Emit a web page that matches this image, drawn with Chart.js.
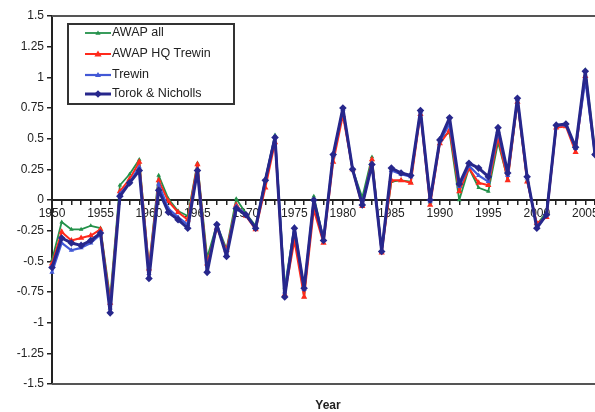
<!DOCTYPE html>
<html>
<head>
    <title>Temperature anomalies</title>
    <script src="https://cdn.jsdelivr.net/npm/chart.js"></script>
</head>
<body style="margin:0; background:white;">
    <div style="width:595px; height:412px; position:relative;">
        <canvas id="anomChart"></canvas>
    </div>

    <script>
        const years = [1950, 1951, 1952, 1953, 1954, 1955, 1956, 1957, 1958, 1959,
                       1960, 1961, 1962, 1963, 1964, 1965, 1966, 1967, 1968, 1969,
                       1970, 1971, 1972, 1973, 1974, 1975, 1976, 1977, 1978, 1979,
                       1980, 1981, 1982, 1983, 1984, 1985, 1986, 1987, 1988, 1989,
                       1990, 1991, 1992, 1993, 1994, 1995, 1996, 1997, 1998, 1999,
                       2000, 2001, 2002, 2003, 2004, 2005, 2006];

        const awapAll = [-0.49, -0.18, -0.24, -0.24, -0.21, -0.23, -0.80, 0.12, 0.21, 0.33,
                         -0.55, 0.20, 0.01, -0.09, -0.13, 0.30, -0.47, -0.20, -0.40, 0.01,
                         -0.11, -0.21, 0.17, 0.53, -0.71, -0.22, -0.79, 0.03, -0.32, 0.35,
                         0.71, 0.25, 0.02, 0.35, -0.41, 0.15, 0.16, 0.15, 0.73, -0.02,
                         0.50, 0.55, 0.00, 0.26, 0.10, 0.07, 0.47, 0.17, 0.80, 0.16,
                         -0.20, -0.10, 0.60, 0.62, 0.42, 1.06, 0.40];

        const awapHQ = [-0.52, -0.26, -0.33, -0.31, -0.29, -0.24, -0.84, 0.07, 0.17, 0.31,
                        -0.56, 0.16, -0.01, -0.10, -0.16, 0.29, -0.52, -0.23, -0.41, -0.04,
                        -0.13, -0.24, 0.10, 0.47, -0.77, -0.33, -0.79, -0.08, -0.35, 0.31,
                        0.69, 0.25, -0.05, 0.33, -0.43, 0.16, 0.16, 0.14, 0.70, -0.04,
                        0.46, 0.57, 0.07, 0.26, 0.14, 0.12, 0.51, 0.16, 0.80, 0.15,
                        -0.19, -0.14, 0.59, 0.60, 0.39, 1.01, 0.38];

        const trewin = [-0.59, -0.35, -0.41, -0.39, -0.35, -0.28, -0.88, 0.05, 0.14, 0.27,
                        -0.60, 0.13, -0.07, -0.14, -0.20, 0.25, -0.57, -0.20, -0.44, -0.05,
                        -0.12, -0.23, 0.16, 0.52, -0.75, -0.22, -0.73, 0.00, -0.32, 0.36,
                        0.74, 0.25, -0.03, 0.30, -0.42, 0.24, 0.21, 0.19, 0.72, -0.01,
                        0.48, 0.62, 0.11, 0.28, 0.20, 0.15, 0.56, 0.20, 0.82, 0.18,
                        -0.22, -0.12, 0.61, 0.61, 0.42, 0.98, 0.37];

        const torokNicholls = [-0.55, -0.31, -0.35, -0.37, -0.33, -0.27, -0.92, 0.03, 0.14, 0.24,
                               -0.64, 0.08, -0.10, -0.16, -0.23, 0.24, -0.59, -0.20, -0.46, -0.07,
                               -0.12, -0.23, 0.16, 0.51, -0.79, -0.23, -0.72, 0.00, -0.33, 0.37,
                               0.75, 0.25, -0.04, 0.29, -0.42, 0.26, 0.22, 0.20, 0.73, 0.00,
                               0.49, 0.67, 0.13, 0.30, 0.26, 0.19, 0.59, 0.22, 0.83, 0.19,
                               -0.23, -0.12, 0.61, 0.62, 0.43, 1.05, 0.37];

        const seriesNames = ["AWAP all", "AWAP HQ Trewin", "Trewin", "Torok & Nicholls"];

        const FONT = "'Liberation Sans', Arial, sans-serif";

        function pts(values) {
            return values.map((v, i) => ({ x: years[i], y: v }));
        }

        // later series sit on top, as in the original, so they go first here
        const series = [
            { label: seriesNames[3], data: torokNicholls, color: "#27278c", style: "rectRot", r: 3.8, w: 3 },
            { label: seriesNames[2], data: trewin, color: "#4258d6", style: "triangle", r: 3, w: 2.2 },
            { label: seriesNames[1], data: awapHQ, color: "#ff2a1c", style: "triangle", r: 3.6, w: 2 },
            { label: seriesNames[0], data: awapAll, color: "#23914a", style: "triangle", r: 2.6, w: 1.8 }
        ];

        function marker(ctx, style, x, y, r, color) {
            ctx.fillStyle = color;
            ctx.beginPath();
            if (style === "rectRot") {
                ctx.moveTo(x, y - r); ctx.lineTo(x + r, y); ctx.lineTo(x, y + r); ctx.lineTo(x - r, y);
            } else {
                ctx.moveTo(x, y - r); ctx.lineTo(x + r, y + r * 0.7); ctx.lineTo(x - r, y + r * 0.7);
            }
            ctx.closePath();
            ctx.fill();
        }

        const framePlugin = {
            id: "frame",
            afterDraw(chart) {
                const { ctx, chartArea: a } = chart;
                ctx.save();
                // top and bottom border of the plot area
                ctx.strokeStyle = "#555";
                ctx.lineWidth = 2;
                ctx.beginPath();
                ctx.moveTo(a.left, a.top); ctx.lineTo(595, a.top);
                ctx.moveTo(a.left, a.bottom); ctx.lineTo(595, a.bottom);
                ctx.stroke();

                // legend box
                ctx.fillStyle = "white";
                ctx.fillRect(68, 24, 166, 80);
                ctx.strokeStyle = "#333";
                ctx.lineWidth = 2;
                ctx.strokeRect(68, 24, 166, 80);
                ctx.font = "12.5px " + FONT;
                ctx.textBaseline = "middle";
                const rows = [33, 54, 75, 94];
                for (let i = 0; i < 4; i++) {
                    const s = series[3 - i];
                    const y = rows[i];
                    ctx.strokeStyle = s.color;
                    ctx.lineWidth = s.w;
                    ctx.beginPath(); ctx.moveTo(85, y); ctx.lineTo(111, y); ctx.stroke();
                    marker(ctx, s.style, 98, y, s.r, s.color);
                    ctx.fillStyle = "#222";
                    ctx.fillText(s.label, 112, y);
                }

                // axis title
                ctx.font = "bold 12px " + FONT;
                ctx.textAlign = "center";
                ctx.fillStyle = "#222";
                ctx.fillText("Year", 328, 406);
                ctx.restore();
            }
        };

        new Chart(document.getElementById("anomChart"), {
            type: "line",
            data: {
                datasets: series.map(s => ({
                    label: s.label,
                    data: pts(s.data),
                    borderColor: s.color,
                    backgroundColor: s.color,
                    borderWidth: s.w,
                    borderJoinStyle: "round",
                    borderCapStyle: "round",
                    pointStyle: s.style,
                    pointRadius: s.r,
                    pointBorderWidth: 0,
                    tension: 0,
                    clip: false
                }))
            },
            options: {
                responsive: true,
                maintainAspectRatio: false,
                animation: false,
                layout: { autoPadding: false, padding: { top: 16, bottom: 28, left: 0, right: 0 } },
                plugins: {
                    legend: { display: false },
                    tooltip: { enabled: false }
                },
                scales: {
                    x: {
                        type: "linear",
                        position: { y: 0 },
                        min: 1950,
                        max: 2006,
                        // plot runs right to the edge of the picture
                        afterFit: s => { s.paddingLeft = 0; s.paddingRight = 0; },
                        grid: { drawOnChartArea: false, drawTicks: true, tickLength: 4, tickColor: "#222", lineWidth: 1.5 },
                        border: { color: "#222", width: 2 },
                        ticks: {
                            stepSize: 1,
                            autoSkip: false,
                            includeBounds: false,
                            maxRotation: 0,
                            padding: 2,
                            color: "#222",
                            font: { family: FONT, size: 12 },
                            callback: v => (v % 5 === 0 ? String(v) : "")
                        }
                    },
                    y: {
                        min: -1.5,
                        max: 1.5,
                        afterFit: s => { s.width = 52; },
                        grid: { drawOnChartArea: false, drawTicks: true, tickLength: 5, tickColor: "#222", lineWidth: 1.5 },
                        border: { color: "#222", width: 2 },
                        ticks: {
                            stepSize: 0.25,
                            padding: 3,
                            color: "#222",
                            font: { family: FONT, size: 12 },
                            callback: v => String(Math.round(v * 100) / 100)
                        }
                    }
                }
            },
            plugins: [framePlugin]
        });
    </script>
</body>
</html>
